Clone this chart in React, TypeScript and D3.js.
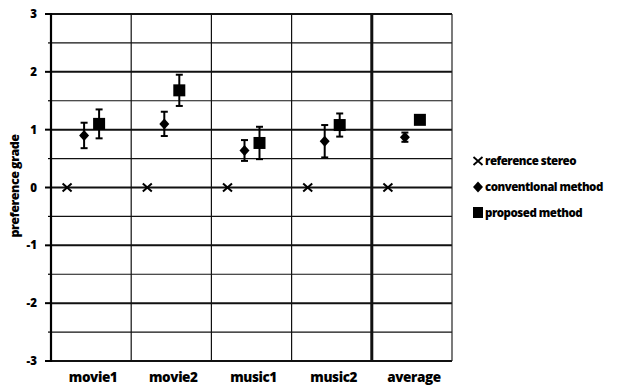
import React from 'react';
import * as d3 from 'd3';

// values
const categories = ['movie1', 'movie2', 'music1', 'music2', 'average'];
const referenceStereo = [0, 0, 0, 0, 0];
const conventional = [0.9, 1.1, 0.64, 0.8, 0.87];
const conventionalErr = [0.22, 0.21, 0.18, 0.28, 0.08];
const proposed = [1.1, 1.68, 0.77, 1.08, 1.17];
const proposedErr = [0.25, 0.27, 0.28, 0.2, 0.02];
const yTicks = [3, 2, 1, 0, -1, -2, -3];
const legendLabels = ['reference stereo', 'conventional method', 'proposed method'];

const W = 627;
const H = 387;
const font = '"Open Sans", "DejaVu Sans", sans-serif';

const App = () => {
  const y = d3.scaleLinear().domain([-3, 3]).range([361, 14]);
  const x = d3.scaleBand().domain(categories).range([51, 452]).padding(0);
  const bw = x.bandwidth();
  const cx = (c: string) => (x(c) ?? 0) + bw / 2;
  const gridVals = d3.range(-3, 3.01, 0.5);
  const diamond = 'M0,-5.5 L5,0 L0,5.5 L-5,0 Z';
  const cross = 'M-4.5,-4 L4.5,4 M-4.5,4 L4.5,-4';

  const errBar = (xc: number, v: number, e: number, key: string) => (
    <g key={key} stroke="#000" strokeWidth={2}>
      <line x1={xc} x2={xc} y1={y(v + e)} y2={y(v - e)} />
      <line x1={xc - 3.5} x2={xc + 3.5} y1={y(v + e)} y2={y(v + e)} />
      <line x1={xc - 3.5} x2={xc + 3.5} y1={y(v - e)} y2={y(v - e)} />
    </g>
  );

  return (
    <svg width={W} height={H} style={{ position: 'absolute', left: 0, top: 0, background: '#fff' }}>
      {/* horizontal grid */}
      {gridVals.map(v => (
        <g key={'h' + v}>
          <line x1={51} x2={452} y1={y(v)} y2={y(v)}
            stroke="#111" strokeWidth={Number.isInteger(v) ? 2 : 1.2} />
          <line x1={Number.isInteger(v) ? 45 : 48} x2={51} y1={y(v)} y2={y(v)}
            stroke="#000" strokeWidth={Number.isInteger(v) ? 2 : 1.2} />
        </g>
      ))}
      {/* vertical separators */}
      {categories.slice(1).map((c, i) => (
        <line key={'v' + c} x1={x(c)} x2={x(c)} y1={14} y2={361}
          stroke="#111" strokeWidth={i === 3 ? 3 : 1.2} />
      ))}
      <line x1={452} x2={452} y1={14} y2={361} stroke="#222" strokeWidth={1.2} />
      <line x1={51} x2={51} y1={13} y2={362} stroke="#000" strokeWidth={2.2} />
      {/* y tick labels */}
      {yTicks.map(t => (
        <text key={'t' + t} x={37} y={y(t) + 4} textAnchor="end" fontFamily={font}
          fontWeight={800} fontSize={11.5}>{t}</text>
      ))}
      <text transform={`translate(19,186) rotate(-90)`} textAnchor="middle"
        fontFamily={font} fontWeight={800} fontSize={12.5} letterSpacing={-0.5}>preference grade</text>
      {/* x labels */}
      {categories.map(c => (
        <text key={'l' + c} x={cx(c) + 2} y={382} textAnchor="middle"
          fontFamily={font} fontWeight={800} fontSize={13.5} letterSpacing={-0.4}>{c}</text>
      ))}
      {/* reference stereo */}
      {categories.map((c, i) => (
        <path key={'r' + c} d={cross} transform={`translate(${cx(c) - 24},${y(referenceStereo[i])})`}
          stroke="#000" strokeWidth={2} fill="none" />
      ))}
      {/* conventional */}
      {categories.map((c, i) => errBar(cx(c) - 7, conventional[i], conventionalErr[i], 'ce' + c))}
      {categories.map((c, i) => (
        <path key={'c' + c} d={diamond} transform={`translate(${cx(c) - 7},${y(conventional[i])})`} fill="#000" />
      ))}
      {/* proposed */}
      {categories.map((c, i) => errBar(cx(c) + 8, proposed[i], proposedErr[i], 'pe' + c))}
      {categories.map((c, i) => (
        <rect key={'p' + c} x={cx(c) + 8 - 6} y={y(proposed[i]) - 6} width={12} height={12} fill="#000" />
      ))}
      {/* legend */}
      {legendLabels.map((l, i) => {
        const ly = 161 + i * 26;
        return (
          <g key={'lg' + l} transform={`translate(478,${ly})`}>
            {i === 0 && <path d={cross} stroke="#000" strokeWidth={1.8} fill="none" />}
            {i === 1 && <path d={diamond} fill="#000" />}
            {i === 2 && <rect x={-5} y={-6} width={10} height={11} fill="#000" />}
            <text x={7} y={4} fontFamily={font} fontWeight={800} fontSize={11.5} letterSpacing={-0.5}>{l}</text>
          </g>
        );
      })}
    </svg>
  );
};

export default App;
